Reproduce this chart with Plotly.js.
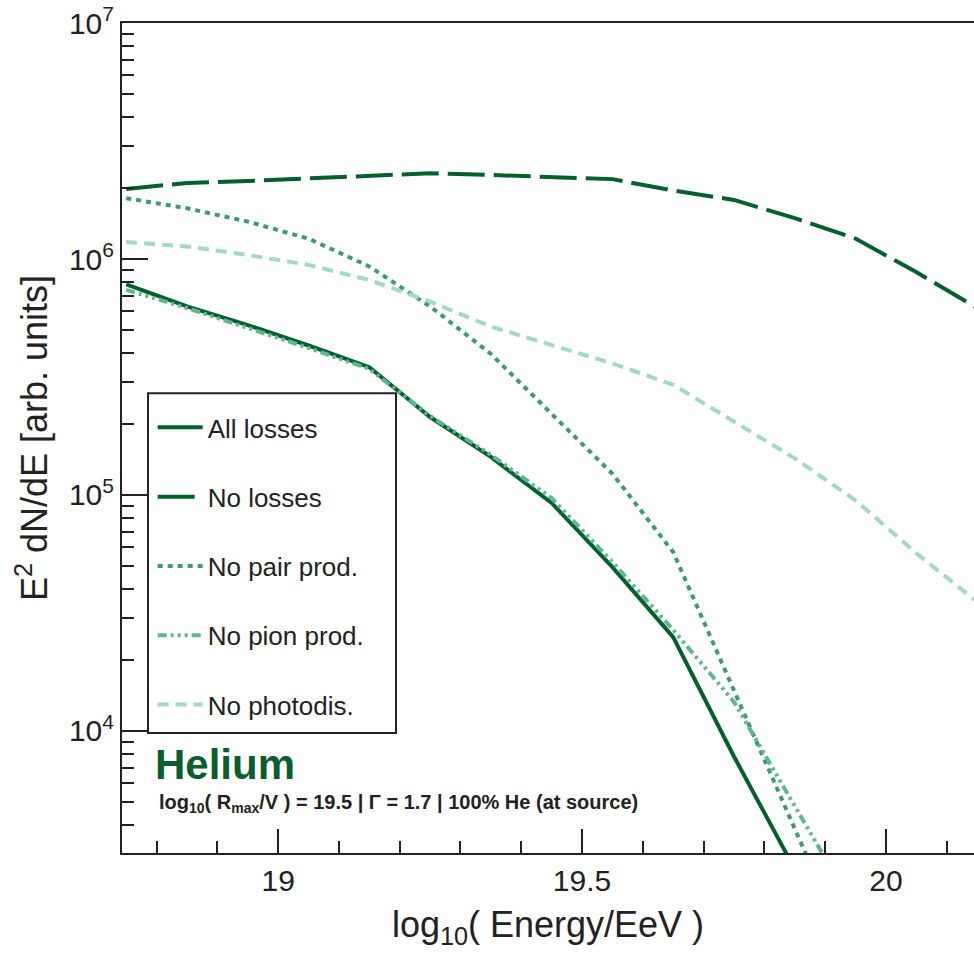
<!DOCTYPE html>
<html>
<head>
<meta charset="utf-8">
<script src="https://cdn.plot.ly/plotly-3.0.1.min.js"></script>
<style>html,body{margin:0;padding:0;background:#fff;}#chart{width:974px;height:961px;}</style>
</head>
<body>
<div id="chart"></div>
<script>
// log10(Energy/EeV) sample points
const energy = [18.75, 18.85, 18.95, 19.05, 19.15, 19.25, 19.35, 19.45, 19.55, 19.65, 19.75, 19.85, 19.95, 20.05, 20.15];

// E^2 dN/dE [arb. units]
const allLosses   = [7.8e5, 6.3e5, 5.25e5, 4.3e5, 3.48e5, 2.14e5, 1.45e5, 9.25e4, 4.95e4, 2.5e4, 7.8e3, 2.6e3, null, null, null];
const noLosses    = [1.98e6, 2.1e6, 2.14e6, 2.2e6, 2.25e6, 2.31e6, 2.27e6, 2.22e6, 2.18e6, 1.95e6, 1.78e6, 1.49e6, 1.22e6, 8.8e5, 6.2e5];
const noPairProd  = [1.81e6, 1.64e6, 1.44e6, 1.22e6, 9.3e5, 6.3e5, 3.96e5, 2.22e5, 1.23e5, 5.73e4, 1.47e4, 3.8e3, 1.0e3, null, null];
const noPionProd  = [7.4e5, 6.2e5, 5.1e5, 4.2e5, 3.42e5, 2.16e5, 1.48e5, 9.7e4, 5.2e4, 2.68e4, 1.33e4, 4.77e3, 1.74e3, null, null];
const noPhotodis  = [1.18e6, 1.13e6, 1.04e6, 9.44e5, 8.15e5, 6.6e5, 5.17e5, 4.33e5, 3.61e5, 2.93e5, 2.05e5, 1.43e5, 9.5e4, 5.67e4, 3.53e4];

const seriesNames = ["All losses", "No losses", "No pair prod.", "No pion prod.", "No photodis."];

const yTickVals = [1e4, 1e5, 1e6, 1e7];
const yTickText = ["10<sup>4</sup>", "10<sup>5</sup>", "10<sup>6</sup>", "10<sup>7</sup>"];
const xTickVals = [19, 19.5, 20];
const xTickText = ["19", "19.5", "20"];

const dark = "#03602e";
const pairCol = "#3c9c6c";
const pionCol = "#5fb690";
const photoCol = "#a2d8c4";

function tr(y, name, color, dash, group) {
  return {
    x: energy, y: y, name: name, type: "scatter", mode: "lines",
    line: {color: color, width: 4, dash: dash},
    legendgroup: group, connectgaps: false
  };
}

const data = [
  tr(allLosses, seriesNames[0], dark, "solid", "g1"),
  tr(noLosses, seriesNames[1], dark, "37px,9px", "g2"),
  tr(noPairProd, seriesNames[2], pairCol, "5px,5px", "g3"),
  tr(noPionProd, seriesNames[3], pionCol, "9px,4px,3px,4px,3px,4px,3px,4px", "g4"),
  tr(noPhotodis, seriesNames[4], photoCol, "11px,7px", "g5")
];

const font = "Liberation Sans, Arial, sans-serif";

const layout = {
  width: 974, height: 961,
  margin: {l: 122, r: 0, t: 23, b: 108},
  paper_bgcolor: "#fff", plot_bgcolor: "#fff",
  font: {family: font, color: "#222"},
  showlegend: true,
  legend: {
    x: 0.036, y: 0.541, xanchor: "left", yanchor: "top",
    bgcolor: "rgba(0,0,0,0)", borderwidth: 0,
    font: {family: font, size: 26, color: "#222"},
    traceorder: "grouped", tracegroupgap: 32.5, itemwidth: 45
  },
  xaxis: {
    range: [18.743, 20.145],
    tickvals: xTickVals, ticktext: xTickText,
    ticks: "inside", ticklen: 24, tickwidth: 2, tickcolor: "#222",
    minor: {dtick: 0.1, tick0: 19, ticks: "inside", ticklen: 12, tickwidth: 2, tickcolor: "#222", showgrid: false},
    showline: true, linewidth: 2, linecolor: "#222", mirror: true,
    showgrid: false, zeroline: false,
    tickfont: {family: font, size: 30, color: "#222"},
    title: {text: "log<sub>10</sub>( Energy/EeV )", font: {family: font, size: 36, color: "#222"}, standoff: 16}
  },
  yaxis: {
    type: "log",
    range: [3.483, 7],
    tickvals: yTickVals, ticktext: yTickText,
    ticks: "inside", ticklen: 26, tickwidth: 2, tickcolor: "#222",
    minor: {dtick: "D1", ticks: "inside", ticklen: 12, tickwidth: 2, tickcolor: "#222", showgrid: false},
    showline: true, linewidth: 2, linecolor: "#222", mirror: true,
    showgrid: false, zeroline: false,
    tickfont: {family: font, size: 30, color: "#222"},
    title: {text: "E<sup>2</sup> dN/dE [arb. units]", font: {family: font, size: 36, color: "#222"}, standoff: 10}
  },
  shapes: [
    {type: "rect", xref: "paper", yref: "paper", x0: 0.0305, x1: 0.3216, y0: 0.1446, y1: 0.554,
     line: {color: "#222", width: 2}, fillcolor: "rgba(0,0,0,0)", layer: "above"}
  ],
  annotations: [
    {xref: "paper", yref: "paper", x: 0.036, y: 0.107, xanchor: "left", yanchor: "middle", showarrow: false,
     text: "<b>Helium</b>", font: {family: font, size: 42, color: "#0a5e2e"}},
    {xref: "paper", yref: "paper", x: 0.041, y: 0.060, xanchor: "left", yanchor: "middle", showarrow: false,
     text: "<b>log<sub>10</sub>( R<sub>max</sub>/V ) = 19.5 | Γ = 1.7 | 100% He (at source)</b>",
     font: {family: font, size: 20, color: "#222"}}
  ]
};

Plotly.newPlot("chart", data, layout, {staticPlot: true, displayModeBar: false});
</script>
</body>
</html>
